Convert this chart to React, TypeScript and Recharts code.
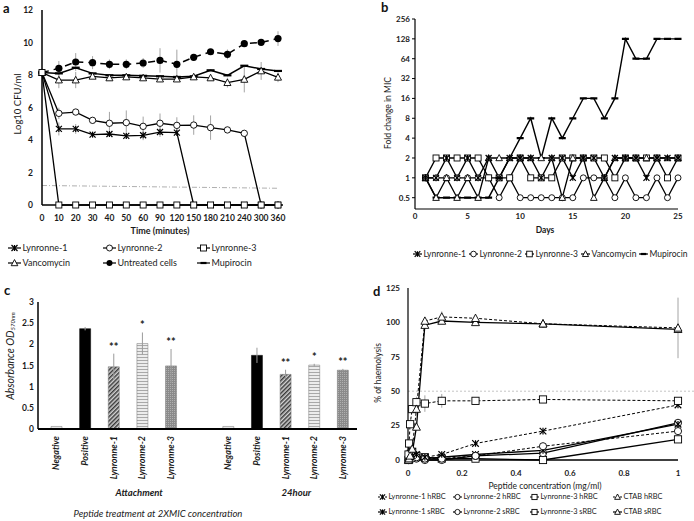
import React from 'react';
import {
  LineChart, Line, BarChart, Bar, Cell, XAxis, YAxis, ErrorBar,
  ReferenceLine, Legend, LabelList, Label,
} from 'recharts';

const FONT = 'Lato, "Liberation Sans", sans-serif';

// ---------------- Panel a data ----------------
const aTimes = ['0', '10', '20', '30', '40', '50', '60', '90', '120', '150', '180', '210', '240', '300', '360'];
const aLyn1 = [8.15, 4.68, 4.68, 4.33, 4.37, 4.25, 4.29, 4.49, 4.45, 0, 0, 0, 0, 0, 0];
const aLyn1Err = [0, 0.4, 0.3, 0.15, 0.15, 0.15, 0.3, 0.3, 0.2, 0, 0, 0, 0, 0, 0];
const aLyn2 = [8.15, 5.64, 5.72, 5.21, 5.03, 5.07, 4.84, 5.03, 4.9, 4.92, 4.76, 4.62, 4.41, 0, 0];
const aLyn2Err = [0, 0.35, 0.1, 0.2, 0.7, 0.75, 0.6, 0.6, 0.5, 0.6, 0.75, 0.1, 0.1, 0, 0];
const aLyn3 = [8.15, 0, 0, 0, 0, 0, 0, 0, 0, 0, 0, 0, 0, 0, 0];
const aVanc = [8.15, 7.69, 7.69, 7.92, 7.82, 7.88, 7.82, 7.75, 7.75, 7.88, 7.82, 7.53, 7.73, 8.25, 7.86];
const aVancErr = [0, 0.5, 0.5, 0.1, 0.1, 0.1, 0.1, 0.1, 0.1, 0.1, 0.1, 0.3, 0.8, 0.55, 0.3];
const aUntr = [8.15, 8.41, 8.8, 8.76, 8.66, 8.66, 8.74, 8.9, 8.66, 9.09, 9.43, 9.27, 9.93, 10.01, 10.24];
const aUntrErr = [0, 0.45, 0.55, 0.4, 0.3, 0.3, 0.3, 0.75, 0.9, 0.2, 0.15, 0.3, 0.1, 0.1, 0.45];
const aMup = [8.15, 8.1, 8.45, 8.1, 7.98, 7.98, 7.95, 7.92, 7.88, 7.92, 8.29, 7.98, 8.57, 8.37, 8.25];
const aNames = ['Lynronne-1', 'Lynronne-2', 'Lynronne-3', 'Vancomycin', 'Untreated cells', 'Mupirocin'];
const aYTicks = [0, 2, 4, 6, 8, 10, 12];
const aLimit = [1.2, 1.03];

// ---------------- Panel b data ----------------
const bDays = [1, 2, 3, 4, 5, 6, 7, 8, 9, 10, 11, 12, 13, 14, 15, 16, 17, 18, 19, 20, 21, 22, 23, 24, 25];
const bLyn1 = [1, 1, 2, 1, 2, 1, 2, 1, 2, 2, 2, 1, 2, 2, 1, 2, 2, 1, 2, 2, 2, 1, 2, 2, 2];
const bLyn2 = [1, 1, 1, 1, 1, 1, 1, 0.5, 1, 0.5, 0.5, 0.5, 0.5, 0.5, 0.5, 1, 1, 1, 0.5, 1, 0.5, 0.5, 1, 0.5, 1];
const bLyn3 = [1, 2, 2, 2, 2, 2, 1, 1, 1, 2, 1, 1, 1, 2, 2, 2, 2, 2, 1, 2, 2, 2, 2, 1, 2];
const bVanc = [1, 0.5, 1, 0.5, 1, 0.5, 2, 2, 2, 2, 2, 2, 2, 0.5, 2, 2, 0.5, 1, 2, 2, 2, 2, 2, 2, 2];
const bMup = [1, 0.5, 0.5, 0.5, 0.5, 0.5, 0.5, 1, 2, 4, 8, 2, 8, 4, 8, 16, 16, 8, 16, 128, 64, 64, 128, 128, 128];
const bNames = ['Lynronne-1', 'Lynronne-2', 'Lynronne-3', 'Vancomycin', 'Mupirocin'];
const bYTicks = [0.5, 1, 2, 4, 8, 16, 32, 64, 128, 256];
const bXTicks = [0, 5, 10, 15, 20, 25];

// ---------------- Panel c data ----------------
const cLabels = ['Negative', 'Positive', 'Lynronne-1', 'Lynronne-2', 'Lynronne-3', '', 'Negative', 'Positive', 'Lynronne-1', 'Lynronne-2', 'Lynronne-3'];
const cValues = [0.06, 2.37, 1.47, 2.02, 1.49, null, 0.06, 1.74, 1.29, 1.51, 1.39];
const cErr = [0, 0.04, 0.31, 0.26, 0.4, 0, 0, 0.18, 0.11, 0.03, 0.03];
const cSig = ['', '', '**', '*', '**', '', '', '', '**', '*', '**'];
const cGroups = ['Attachment', '24hour'];
const cYTicks = [0, 0.5, 1, 1.5, 2, 2.5, 3];

// ---------------- Panel d data ----------------
const dConc = [0.00195, 0.0039, 0.0078, 0.0156, 0.03125, 0.0625, 0.125, 0.25, 0.5, 1];
const dL1h = [1, 1, 2, 3, 4, 2, 4, 12, 21, 40];
const dL2h = [0, 0, 1, 1, 2, 1, 1, 3, 10, 21];
const dL3h = [4, 12, 26, 37, 42, 41, 43, 43, 44, 43];
const dCTh = [0, 1, 3, 8, 37, 101, 104, 103, 99, 96];
const dL1s = [0, 1, 5, 6, 2, 1, 2, 4, 7, 26];
const dL2s = [0, 0, 1, 2, 1, 0, 0, 3, 5, 27];
const dL3s = [0, 1, 2, 6, 3, 2, 1, 1, 0, 15];
const dCTs = [0, 1, 2, 5, 24, 98, 101, 100, 99, 95];
const dL3hErr = [0, 0, 0, 0, 4, 6, 5, 0, 0, 0];
const dCThErr = [0, 0, 0, 0, 0, 2, 4, 2, 3, 22];
const dNames = ['Lynronne-1 hRBC', 'Lynronne-2 hRBC', 'Lynronne-3 hRBC', 'CTAB hRBC', 'Lynronne-1 sRBC', 'Lynronne-2 sRBC', 'Lynronne-3 sRBC', 'CTAB sRBC'];
const dXTicks = [0, 0.2, 0.4, 0.6, 0.8, 1];
const dYTicks = [0, 25, 50, 75, 100, 125];
const dThreshold = 50;

// ---------------- helpers ----------------
function Marker({ type, cx, cy, s }: { type: string; cx: number; cy: number; s: number }) {
  if (cx == null || cy == null || !isFinite(cx) || !isFinite(cy)) return null;
  const k = '#000';
  switch (type) {
    case 'circle':
      return <circle cx={cx} cy={cy} r={s} fill="#fff" stroke={k} strokeWidth={0.9} />;
    case 'dot':
      return <circle cx={cx} cy={cy} r={s} fill={k} />;
    case 'square':
      return <rect x={cx - s} y={cy - s} width={2 * s} height={2 * s} fill="#fff" stroke={k} strokeWidth={0.9} />;
    case 'triangle':
      return (
        <polygon
          points={`${cx},${cy - s * 1.15} ${cx + s * 1.1},${cy + s * 0.9} ${cx - s * 1.1},${cy + s * 0.9}`}
          fill="#fff" stroke={k} strokeWidth={0.9}
        />
      );
    case 'star':
      return (
        <g stroke={k} strokeWidth={1.2}>
          <line x1={cx - s} y1={cy - s} x2={cx + s} y2={cy + s} />
          <line x1={cx - s} y1={cy + s} x2={cx + s} y2={cy - s} />
          <line x1={cx} y1={cy - s} x2={cx} y2={cy + s} />
        </g>
      );
    case 'dash':
      return <line x1={cx - s} y1={cy} x2={cx + s} y2={cy} stroke={k} strokeWidth={2.2} />;
  }
  return null;
}

const dotOf = (type: string, s: number) => (p: any) => (
  <Marker key={`m-${type}-${p.index}`} type={type} cx={p.cx} cy={p.cy} s={s} />
);

function LegIcon({ type, dashed, w, s }: { type: string; dashed?: boolean; w: number; s: number }) {
  return (
    <svg width={w} height={10} style={{ display: 'block', overflow: 'visible' }}>
      <line x1={0} y1={5} x2={w} y2={5} stroke="#000" strokeWidth={1.2} strokeDasharray={dashed ? '2 1.5' : undefined} />
      <Marker type={type} cx={w / 2} cy={5} s={s} />
    </svg>
  );
}

type LegItem = { name: string; type: string; dashed?: boolean; left: number; top: number };

function PosLegend({ items, fontSize, w, s, width, height }: { items: LegItem[]; fontSize: number; w: number; s: number; width: number; height: number }) {
  return (
    <div style={{ position: 'relative', width, height }}>
      {items.map((it) => (
        <div
          key={it.name}
          style={{
            position: 'absolute', left: it.left, top: it.top, display: 'flex', alignItems: 'center',
            whiteSpace: 'nowrap', fontFamily: FONT, fontSize, lineHeight: '12px', color: '#222',
          }}
        >
          <LegIcon type={it.type} dashed={it.dashed} w={w} s={s} />
          <span style={{ marginLeft: 1.5 }}>{it.name}</span>
        </div>
      ))}
    </div>
  );
}

const tickStyle = (size: number, extra: any = {}) => ({
  fontSize: size, fontFamily: FONT, fontWeight: 700, fill: '#1a1a1a', ...extra,
});

const axisTitle = (x: number, y: number, text: string, size: number, rotate = false, weight = 700) => () => (
  <text
    x={x} y={y} textAnchor="middle" dominantBaseline="central"
    transform={rotate ? `rotate(-90, ${x}, ${y})` : undefined}
    fontFamily={FONT} fontSize={size} fontWeight={weight} fill="#1a1a1a"
  >
    {text}
  </text>
);

const errStyle = { stroke: '#9a9a9a', strokeWidth: 0.9 };

// ---------------- Panel a ----------------
function PanelA() {
  const data = aTimes.map((t, i) => ({
    t,
    l1: aLyn1[i], l1e: aLyn1Err[i],
    l2: aLyn2[i], l2e: aLyn2Err[i],
    l3: aLyn3[i],
    va: aVanc[i], vae: aVancErr[i],
    un: aUntr[i], une: aUntrErr[i],
    mu: aMup[i],
  }));
  const legItems: LegItem[] = [
    { name: aNames[0], type: 'star', left: 8, top: 2 },
    { name: aNames[1], type: 'circle', left: 103, top: 2 },
    { name: aNames[2], type: 'square', left: 197, top: 2 },
    { name: aNames[3], type: 'triangle', left: 8, top: 17 },
    { name: aNames[4], type: 'dot', left: 103, top: 17 },
    { name: aNames[5], type: 'dash', left: 197, top: 17 },
  ];
  return (
    <LineChart width={347} height={272} data={data} margin={{ top: 10, right: 64, bottom: 27, left: 0 }}>
      <XAxis
        dataKey="t" scale="point" padding={{ left: 0, right: 5 }} interval={0}
        axisLine={{ stroke: '#000', strokeWidth: 1.5 }} tickLine={false} tickSize={4} tickMargin={6}
        tick={tickStyle(8.5)} height={40}
        label={<Label content={axisTitle(160, 230, 'Time (minutes)', 9)} />}
      />
      <YAxis
        domain={[0, 12]} ticks={aYTicks} width={42} interval={0}
        axisLine={{ stroke: '#000', strokeWidth: 1.5 }} tickLine={false} tickSize={5} tickMargin={4}
        tick={tickStyle(8.5)}
        label={<Label content={axisTitle(17, 104, 'Log10 CFU/ml', 9.5, true, 400)} />}
      />
      <ReferenceLine
        segment={[{ x: aTimes[0], y: aLimit[0] }, { x: aTimes[aTimes.length - 1], y: aLimit[1] }]}
        stroke="#9a9a9a" strokeWidth={0.8} strokeDasharray="5 2 1 2"
      />
      <Line dataKey="un" stroke="#000" strokeWidth={1.5} strokeDasharray="7 5" dot={dotOf('dot', 3.6)} isAnimationActive={false}>
        <ErrorBar dataKey="une" width={0} direction="y" {...errStyle} />
      </Line>
      <Line dataKey="mu" stroke="#000" strokeWidth={1.5} dot={dotOf('dash', 4)} isAnimationActive={false} />
      <Line dataKey="va" stroke="#000" strokeWidth={1.3} dot={dotOf('triangle', 3.2)} isAnimationActive={false}>
        <ErrorBar dataKey="vae" width={0} direction="y" {...errStyle} />
      </Line>
      <Line dataKey="l2" stroke="#000" strokeWidth={1.3} dot={dotOf('circle', 3.2)} isAnimationActive={false}>
        <ErrorBar dataKey="l2e" width={0} direction="y" {...errStyle} />
      </Line>
      <Line dataKey="l1" stroke="#000" strokeWidth={1.3} dot={dotOf('star', 3)} isAnimationActive={false}>
        <ErrorBar dataKey="l1e" width={0} direction="y" {...errStyle} />
      </Line>
      <Line dataKey="l3" stroke="#000" strokeWidth={1.3} dot={dotOf('square', 3)} isAnimationActive={false} />
      <Legend
        verticalAlign="middle" layout="horizontal"
        wrapperStyle={{ top: 240, left: 0, width: 347, height: 32 }}
        content={() => <PosLegend items={legItems} fontSize={9} w={13} s={3} width={347} height={32} />}
      />
    </LineChart>
  );
}

// ---------------- Panel b ----------------
function PanelB() {
  const data = bDays.map((d, i) => ({ d, l1: bLyn1[i], l2: bLyn2[i], l3: bLyn3[i], va: bVanc[i], mu: bMup[i] }));
  const legItems: LegItem[] = [
    { name: bNames[0], type: 'star', left: 68, top: 2 },
    { name: bNames[1], type: 'circle', left: 124, top: 2 },
    { name: bNames[2], type: 'square', left: 180, top: 2 },
    { name: bNames[3], type: 'triangle', left: 236, top: 2 },
    { name: bNames[4], type: 'dash', left: 294, top: 2 },
  ];
  return (
    <LineChart width={349} height={270} data={data} margin={{ top: 19, right: 16, bottom: 31, left: 0 }}>
      <XAxis
        dataKey="d" type="number" domain={[0, 25]} ticks={bXTicks} interval={0}
        axisLine={{ stroke: '#000', strokeWidth: 1.2 }} tickLine={false} tickSize={2} tickMargin={2}
        tick={tickStyle(8)} height={30}
        label={<Label content={axisTitle(200, 230, 'Days', 8.5)} />}
      />
      <YAxis
        type="number" scale="log" domain={[0.337, 256]} allowDataOverflow ticks={bYTicks} interval={0}
        width={70} axisLine={{ stroke: '#000', strokeWidth: 1.2 }} tickLine={{ stroke: '#000' }} tickSize={3} tickMargin={2}
        tick={tickStyle(8)}
        label={<Label content={axisTitle(43, 113, 'Fold change in MIC', 8.5, true, 400)} />}
      />
      <Line dataKey="l2" stroke="#000" strokeWidth={1.3} dot={dotOf('circle', 3)} isAnimationActive={false} />
      <Line dataKey="l3" stroke="#000" strokeWidth={1.3} dot={dotOf('square', 3)} isAnimationActive={false} />
      <Line dataKey="mu" stroke="#000" strokeWidth={1.4} dot={dotOf('dash', 3.5)} isAnimationActive={false} />
      <Line dataKey="va" stroke="#000" strokeWidth={1.3} dot={dotOf('triangle', 3)} isAnimationActive={false} />
      <Line dataKey="l1" stroke="#000" strokeWidth={1.3} dot={dotOf('star', 3)} isAnimationActive={false} />
      <Legend
        verticalAlign="middle" layout="horizontal"
        wrapperStyle={{ top: 246, left: 0, width: 349, height: 16 }}
        content={() => <PosLegend items={legItems} fontSize={8.5} w={9} s={2.8} width={349} height={16} />}
      />
    </LineChart>
  );
}

// ---------------- Panel c ----------------
const cFills: Record<string, string> = {
  Negative: '#e6e6e6',
  Positive: '#000',
  'Lynronne-1': 'url(#patL1)',
  'Lynronne-2': 'url(#patL2)',
  'Lynronne-3': 'url(#patL3)',
  '': 'none',
};

const idxOfKey = (k: any) => Number(String(k ?? '').replace('c', ''));

const CTick = (props: any) => {
  const { x, y, payload } = props;
  const idx = idxOfKey(payload?.value);
  const label = cLabels[idx] ?? '';
  const ty = y + 7;
  return (
    <g>
      <text
        x={x} y={ty} transform={`rotate(-90, ${x}, ${ty})`} textAnchor="end" dy="0.35em"
        fontFamily={FONT} fontSize={9} fontStyle="italic" fontWeight={700} fill="#1a1a1a"
      >
        {label}
      </text>
      {idx === 3 && (
        <text x={x - 3} y={y + 63} textAnchor="middle" dominantBaseline="central" fontFamily={FONT} fontSize={9.5} fontStyle="italic" fontWeight={700} fill="#1a1a1a">
          {cGroups[0]}
        </text>
      )}
      {idx === 8 && (
        <text x={x + 11} y={y + 63} textAnchor="middle" dominantBaseline="central" fontFamily={FONT} fontSize={9.5} fontStyle="italic" fontWeight={700} fill="#1a1a1a">
          {cGroups[1]}
        </text>
      )}
    </g>
  );
};

const SigLabel = (p: any) => {
  const index = idxOfKey(p.value);
  const vb = p.viewBox ?? {};
  const x = p.x ?? vb.x;
  const y = p.y ?? vb.y;
  const width = p.width ?? vb.width;
  const height = p.height ?? vb.height;
  const sig = cSig[index];
  const v = cValues[index];
  if (!sig || !v || x == null) return null;
  const errPx = (cErr[index] / v) * Math.abs(height);
  return (
    <text x={x + width / 2} y={y - errPx - 3} textAnchor="middle" fontFamily={FONT} fontSize={11} fontWeight={700} fill="#222">
      {sig}
    </text>
  );
};

function PanelC() {
  const data = cLabels.map((l, i) => ({ k: `c${i}`, v: cValues[i], e: cErr[i], sig: cSig[i] }));
  return (
    <BarChart width={362} height={251} data={data} margin={{ top: 32, right: 5, bottom: 12, left: 0 }} barSize={11}>
      <defs>
        <pattern id="patL1" patternUnits="userSpaceOnUse" width={3} height={3} patternTransform="rotate(45)">
          <rect width={3} height={3} fill="#d4d4d4" />
          <line x1={0.75} y1={0} x2={0.75} y2={3} stroke="#3a3a3a" strokeWidth={1.5} />
        </pattern>
        <pattern id="patL2" patternUnits="userSpaceOnUse" width={3} height={3}>
          <rect width={3} height={3} fill="#ececec" />
          <line x1={0} y1={0.5} x2={3} y2={0.5} stroke="#a8a8a8" strokeWidth={1} />
        </pattern>
        <pattern id="patL3" patternUnits="userSpaceOnUse" width={2} height={2}>
          <rect width={2} height={2} fill="#8a8a8a" />
          <rect width={1} height={1} fill="#b0b0b0" />
        </pattern>
      </defs>
      <XAxis
        dataKey="k" interval={0} padding={{ left: 4, right: 0 }}
        axisLine={{ stroke: '#000', strokeWidth: 2.2 }} tickLine={false} tickSize={0} tickMargin={0}
        tick={(p: any) => <CTick {...p} />} height={80}
        label={<Label content={() => (
          <text x={158} y={243} textAnchor="middle" dominantBaseline="central" fontFamily={FONT} fontSize={9.5} fontStyle="italic" fill="#1a1a1a">
            Peptide treatment at 2XMIC concentration
          </text>
        )} />}
      />
      <YAxis
        domain={[0, 3]} ticks={cYTicks} interval={0} width={38}
        axisLine={{ stroke: '#000', strokeWidth: 1.5 }} tickLine={false} tickSize={2} tickMargin={2}
        tick={tickStyle(8.5)}
        label={<Label content={() => (
          <text x={10} y={86} transform="rotate(-90, 10, 86)" textAnchor="middle" dominantBaseline="central" fontFamily={FONT} fontSize={10.5} fontStyle="italic" fill="#1a1a1a">
            Absorbance OD<tspan fontSize={6} dy={2}>570nm</tspan>
          </text>
        )} />}
      />
      <Bar dataKey="v" isAnimationActive={false} stroke="#666" strokeWidth={0.5}>
        {cLabels.map((l, i) => (
          <Cell key={`cell-${i}`} fill={cFills[l]} stroke={l === 'Positive' ? '#000' : '#777'} />
        ))}
        <ErrorBar dataKey="e" width={0} direction="y" stroke="#9a9a9a" strokeWidth={1} />
        <LabelList dataKey={(d: any) => d.k} content={SigLabel} />
      </Bar>
    </BarChart>
  );
}

// ---------------- Panel d ----------------
function PanelD() {
  const mk = (ys: number[], errs?: number[]) => dConc.map((x, i) => ({ x, y: ys[i], e: errs ? errs[i] : 0 }));
  const legItems: LegItem[] = [
    { name: dNames[0], type: 'star', dashed: true, left: 33, top: 1 },
    { name: dNames[1], type: 'circle', dashed: true, left: 108, top: 1 },
    { name: dNames[2], type: 'square', dashed: true, left: 185, top: 1 },
    { name: dNames[3], type: 'triangle', dashed: true, left: 268, top: 1 },
    { name: dNames[4], type: 'star', left: 33, top: 16 },
    { name: dNames[5], type: 'circle', left: 108, top: 16 },
    { name: dNames[6], type: 'square', left: 185, top: 16 },
    { name: dNames[7], type: 'triangle', left: 268, top: 16 },
  ];
  const dash = '3 2';
  return (
    <LineChart width={349} height={251} margin={{ top: 18, right: 16, bottom: 31, left: 0 }}>
      <XAxis
        dataKey="x" type="number" domain={[0, 1]} ticks={dXTicks} interval={0} allowDuplicatedCategory={false}
        axisLine={{ stroke: '#000', strokeWidth: 1.6 }} tickLine={false} tickSize={4} tickMargin={6}
        tick={tickStyle(8)} height={30}
        label={<Label content={axisTitle(200, 216, 'Peptide concentration (mg/ml)', 8.5, false, 400)} />}
      />
      <YAxis
        type="number" domain={[0, 125]} ticks={dYTicks} interval={0} width={63}
        axisLine={{ stroke: '#000', strokeWidth: 1.2 }} tickLine={false} tickSize={4} tickMargin={4}
        tick={tickStyle(8)}
        label={<Label content={axisTitle(33, 103, '% of haemolysis', 8.5, true, 400)} />}
      />
      <ReferenceLine
        segment={[{ x: 0, y: dThreshold }, { x: 1.06, y: dThreshold }]} ifOverflow="visible"
        stroke="#b5b5b5" strokeWidth={0.8} strokeDasharray="2 2"
      />
      <Line data={mk(dL3s)} dataKey="y" stroke="#000" strokeWidth={1.3} dot={dotOf('square', 3.6)} isAnimationActive={false} />
      <Line data={mk(dL2s)} dataKey="y" stroke="#000" strokeWidth={1.3} dot={dotOf('circle', 3.6)} isAnimationActive={false} />
      <Line data={mk(dL1s)} dataKey="y" stroke="#000" strokeWidth={1.3} dot={dotOf('star', 3.3)} isAnimationActive={false} />
      <Line data={mk(dCTs)} dataKey="y" stroke="#000" strokeWidth={1.3} dot={dotOf('triangle', 3.6)} isAnimationActive={false} />
      <Line data={mk(dL2h)} dataKey="y" stroke="#000" strokeWidth={1} strokeDasharray={dash} dot={dotOf('circle', 3.6)} isAnimationActive={false} />
      <Line data={mk(dL1h)} dataKey="y" stroke="#000" strokeWidth={1} strokeDasharray={dash} dot={dotOf('star', 3.3)} isAnimationActive={false} />
      <Line data={mk(dL3h, dL3hErr)} dataKey="y" stroke="#000" strokeWidth={1} strokeDasharray={dash} dot={dotOf('square', 3.6)} isAnimationActive={false}>
        <ErrorBar dataKey="e" width={0} direction="y" {...errStyle} />
      </Line>
      <Line data={mk(dCTh, dCThErr)} dataKey="y" stroke="#000" strokeWidth={1} strokeDasharray={dash} dot={dotOf('triangle', 3.6)} isAnimationActive={false}>
        <ErrorBar dataKey="e" width={0} direction="y" {...errStyle} />
      </Line>
      <Legend
        verticalAlign="middle" layout="horizontal"
        wrapperStyle={{ top: 220, left: 0, width: 349, height: 30 }}
        content={() => <PosLegend items={legItems} fontSize={7.4} w={9} s={2.6} width={349} height={30} />}
      />
    </LineChart>
  );
}

const panelLabel = (left: number, top: number): React.CSSProperties => ({
  position: 'absolute', left, top, fontFamily: FONT, fontWeight: 700, fontSize: 13, lineHeight: '14px', color: '#111',
});

export default function App() {
  return (
    <div style={{ position: 'absolute', left: 0, top: 0, width: 694, height: 521, background: '#fff', overflow: 'hidden' }}>
      <div style={{ position: 'absolute', left: 0, top: 0 }}><PanelA /></div>
      <div style={{ position: 'absolute', left: 345, top: 0 }}><PanelB /></div>
      <div style={{ position: 'absolute', left: 0, top: 270 }}><PanelC /></div>
      <div style={{ position: 'absolute', left: 345, top: 270 }}><PanelD /></div>
      <div style={panelLabel(3, 1)}>a</div>
      <div style={panelLabel(381, 0)}>b</div>
      <div style={panelLabel(4, 283)}>c</div>
      <div style={panelLabel(373, 284)}>d</div>
    </div>
  );
}
